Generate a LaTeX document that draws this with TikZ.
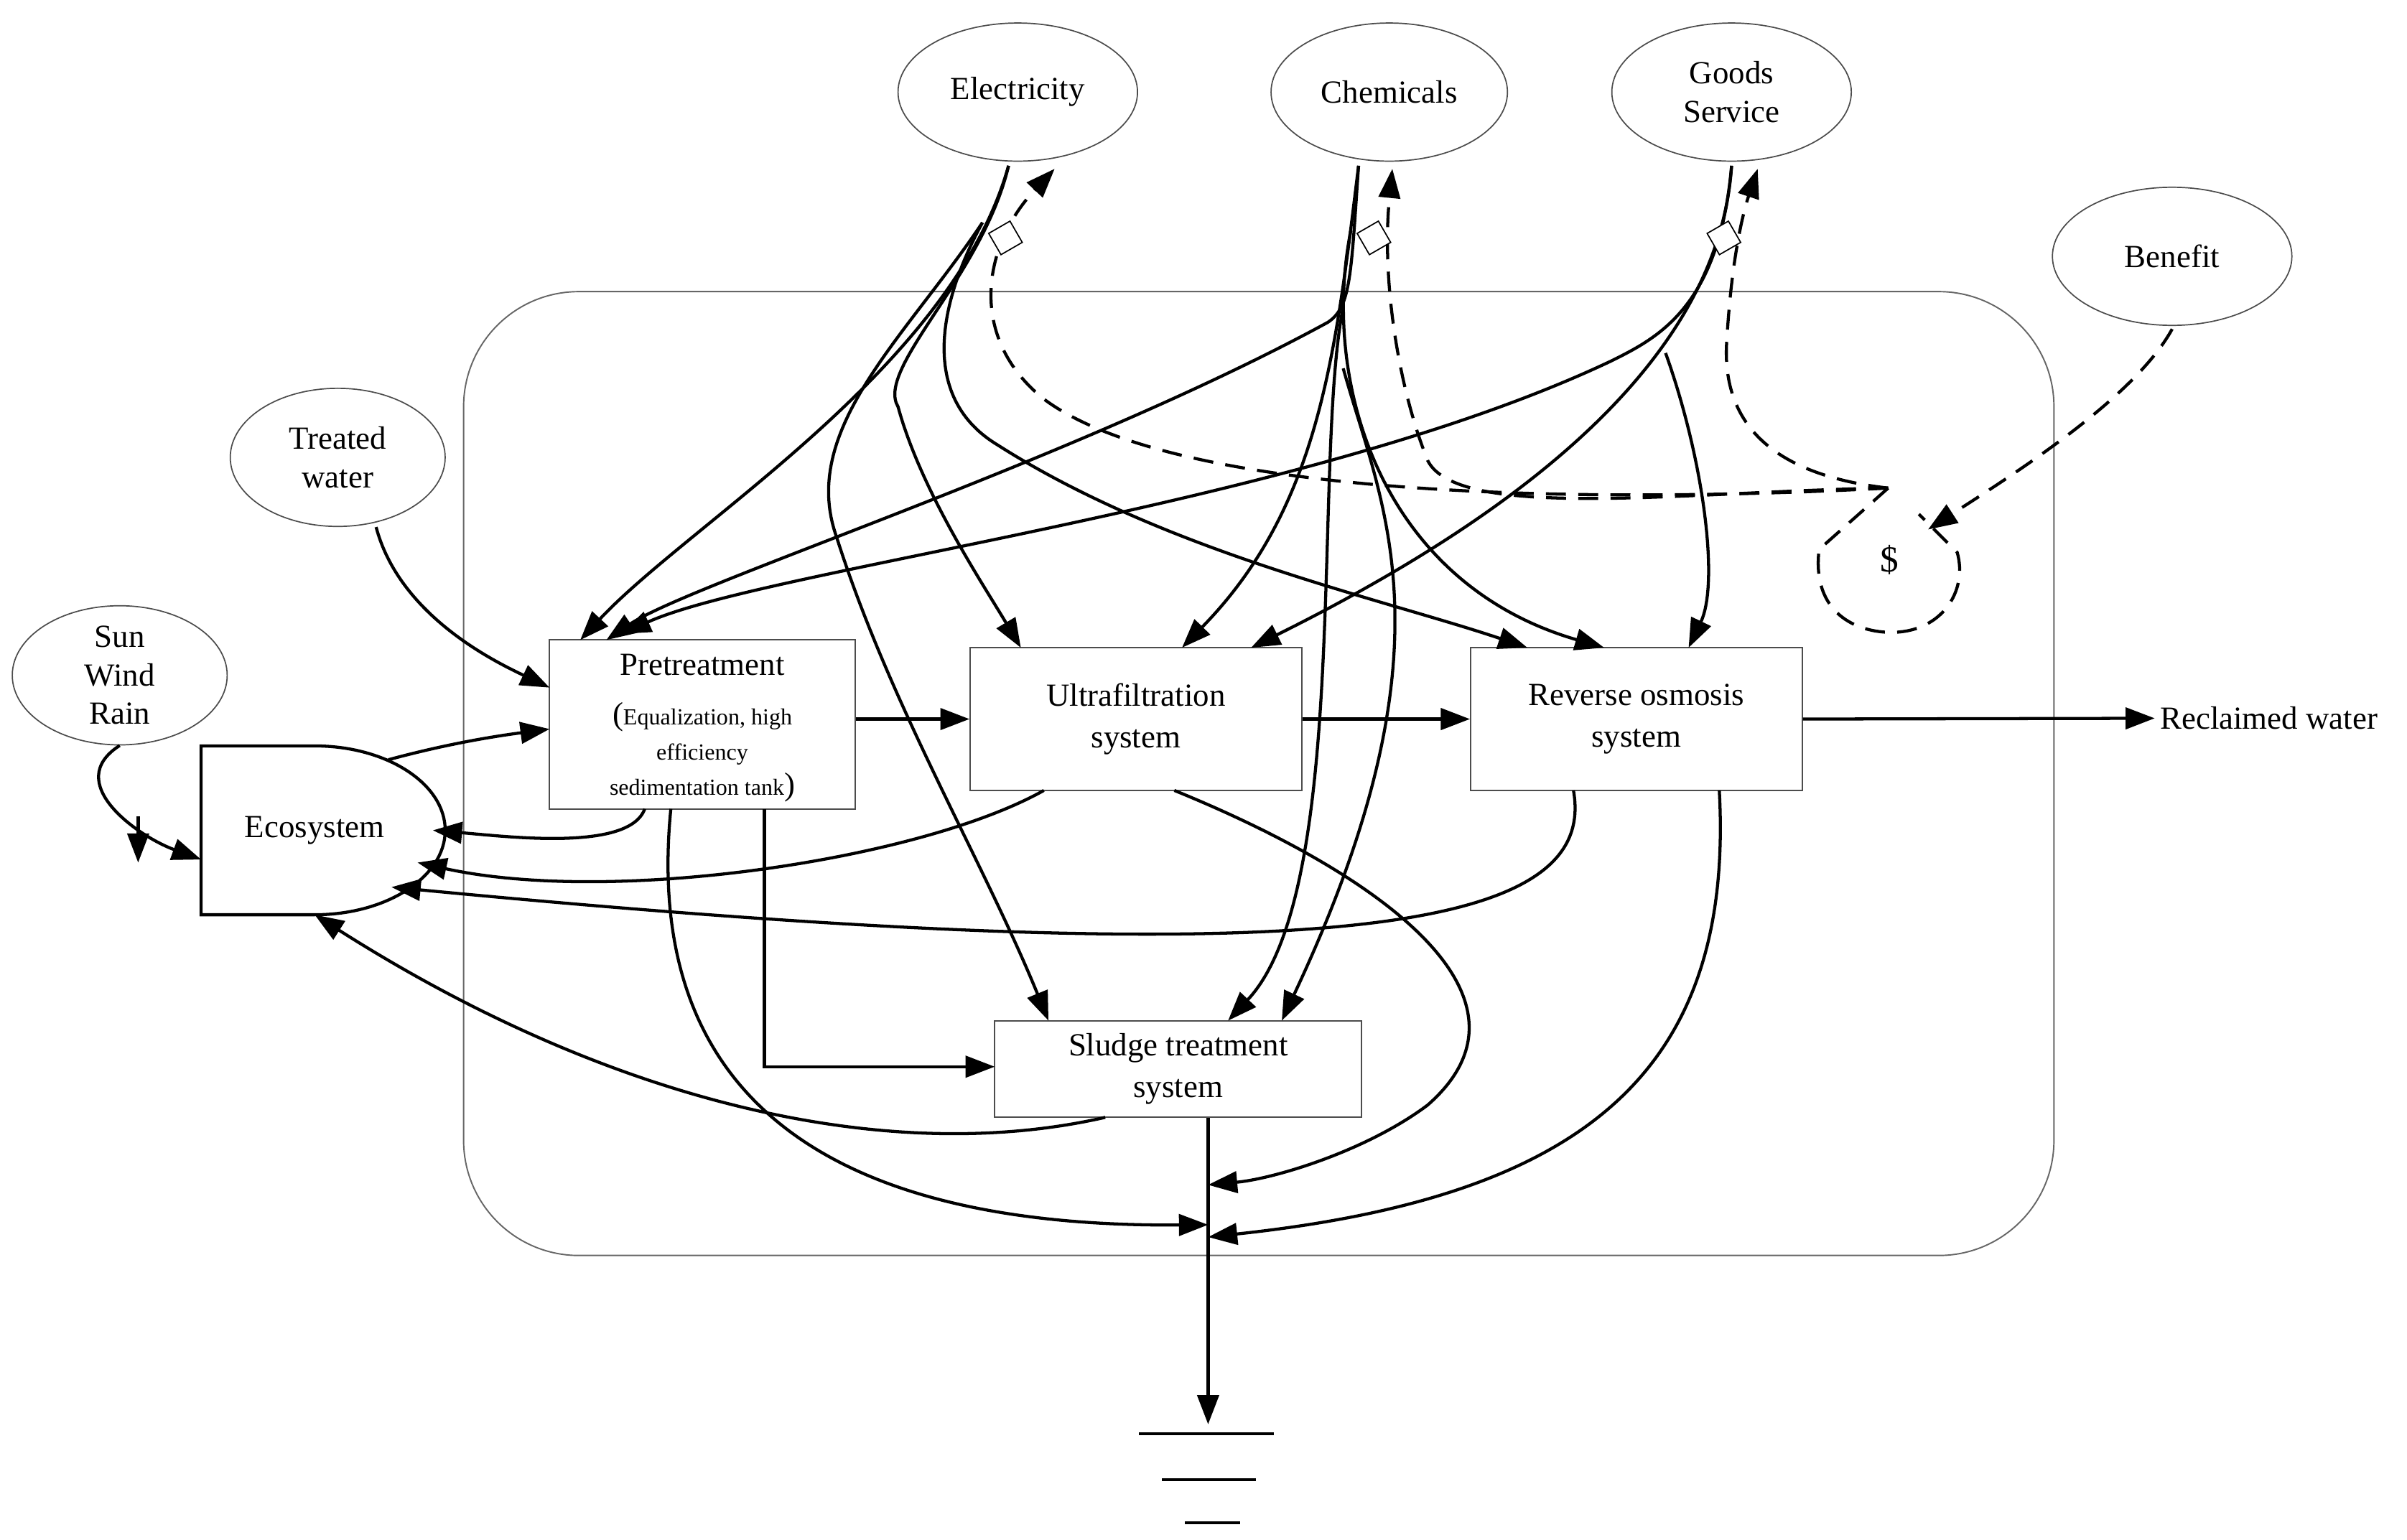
\documentclass[tikz,border=0pt]{standalone}
\usepackage{fontspec}
\setmainfont{Liberation Serif}
\usetikzlibrary{arrows.meta,shapes.geometric}
\begin{document}
\begin{tikzpicture}[x=1pt,y=-1pt,
 el/.style={draw=black!70,line width=0.8pt,ellipse,minimum width=#1,minimum height=90pt,align=center,font=\fontsize{21}{25}\selectfont,inner sep=0pt},
 box/.style={draw=black!70,line width=0.9pt,align=center,font=\fontsize{21}{27}\selectfont,inner sep=0pt},
 ar/.style={line width=2pt,-{Triangle[length=19pt,width=14pt]}},
 dr/.style={ar,dash pattern=on 13pt off 8pt},
 valve/.style={draw,line width=0.8pt,fill=white,minimum size=16pt,rotate=30,inner sep=0pt}]
\useasboundingbox (0,0) rectangle (1568,1003);
\draw[black!60,line width=0.9pt,rounded corners=75pt] (302,190) rectangle (1338,818);
\node[el=156pt] (el) at (663,60) {Electricity};
\node[el=154pt] (ch) at (905,60) {Chemicals};
\node[el=156pt] (gs) at (1128,60) {Goods\\Service};
\node[el=156pt] (be) at (1415,167) {Benefit};
\node[el=140pt] (tw) at (220,298) {Treated\\water};
\node[el=140pt] (sw) at (78,440) {Sun\\Wind\\Rain};
\node[box,minimum width=199pt,minimum height=110pt] (pt) at (457.5,472) {};
\node[font=\fontsize{21}{25}\selectfont] at (457.5,433) {Pretreatment};
\node[align=center,font=\fontsize{15}{23}\selectfont] (ptt) at (457.5,490) {\fontsize{21}{23}\selectfont(\fontsize{15}{23}\selectfont Equalization, high\\efficiency\\sedimentation tank\fontsize{21}{23}\selectfont)};
\node[box,minimum width=216pt,minimum height=93pt] (uf) at (740,468.5) {Ultrafiltration\\system};
\node[box,minimum width=216pt,minimum height=93pt] (ro) at (1066,468.5) {Reverse osmosis\\system};
\node[box,minimum width=239pt,minimum height=63pt] (sl) at (767.5,696.5) {Sludge treatment\\system};
\draw[line width=2pt] (205,596) -- (131,596) -- (131,486) -- (205,486) arc[start angle=-90,end angle=90,x radius=85,y radius=55];
\node[font=\fontsize{21}{25}\selectfont] (eco) at (205,541) {Ecosystem};
\node[font=\fontsize{21}{25}\selectfont] (rw) at (1478,468) {Reclaimed water};
\coordinate (j1) at (787,772);
\coordinate (j2) at (787,798);
\coordinate (gnd) at (787,928);
\coordinate (da) at (1230,318);
% ground
\draw[line width=2pt] (742,934) -- (830,934) (757,964) -- (818,964) (772,992) -- (808,992);
\draw[line width=2pt] (sl.south -| j1) -- (j2);
\draw[ar] (j2) -- (gnd);
% main flow
\draw[ar] (pt.east |- uf) -- (uf.west);
\draw[ar] (uf) -- (ro);
\draw[ar] (ro.east) -- (rw.west);
\draw[ar] (tw.south) ++(25,0) .. controls (260,400) and (320,430) .. (358,448);
\draw[ar] (253,495) .. controls (290,485) and (320,480) .. (358,475);
\draw[ar] (sw.south) .. controls (40,510) and (90,545) .. (131,560);
\draw[ar] (90,532) -- (90,562);
% inputs solid
\draw[ar] (657,108) .. controls (620,240) and (450,340) .. (378,417);
\draw[ar] (657,108) .. controls (640,180) and (570,240) .. (585,265) .. controls (600,320) and (640,380) .. (665,422);
\draw[ar] (640,145) .. controls (610,200) and (600,260) .. (650,290) .. controls (760,360) and (900,390) .. (995,422);
\draw[ar] (640,145) .. controls (590,220) and (520,280) .. (545,350) .. controls (580,460) and (640,560) .. (683,665);
\draw[ar] (885,108) .. controls (880,180) and (880,200) .. (865,210) .. controls (700,300) and (450,380) .. (395,417);
\draw[ar] (885,108) .. controls (870,230) and (860,330) .. (770,422);
\draw[ar] (880,150) .. controls (860,250) and (900,380) .. (1045,422);
\draw[ar] (875,200) .. controls (855,300) and (880,580) .. (800,665);
\draw[ar] (875,240) .. controls (900,330) and (950,420) .. (835,665);
\draw[ar] (1128,108) .. controls (1120,200) and (1080,220) .. (1050,235) .. controls (850,330) and (500,370) .. (405,413);
\draw[ar] (1128,108) .. controls (1120,230) and (1000,330) .. (815,422);
\draw[ar] (1085,230) .. controls (1110,300) and (1120,380) .. (1100,422);
% to ecosystem
\draw[ar] (420,527) .. controls (410,555) and (330,545) .. (282,541);
\draw[ar] (680,515) .. controls (600,560) and (400,590) .. (272,562);
\draw[ar] (1025,515) .. controls (1040,600) and (900,640) .. (255,578);
\draw[ar] (720,728) .. controls (580,760) and (400,720) .. (205,596);
% to sludge / outlet
\draw[ar] (498,527) -- (498,695) -- (648,695);
\draw[ar] (437,527) .. controls (420,700) and (520,800) .. (j2);
\draw[ar] (765,515) .. controls (900,570) and (1010,650) .. (930,720) .. controls (890,750) and (830,768) .. (j1);
\draw[ar] (1120,515) .. controls (1130,700) and (1030,780) .. ([yshift=-8pt]j2);
% dashed money flows
\draw[dr] (da) .. controls (1000,330) and (760,320) .. (680,260) .. controls (630,220) and (640,160) .. (687,110);
\draw[dr] (da) .. controls (1100,320) and (950,340) .. (930,300) .. controls (910,250) and (900,180) .. (907,110);
\draw[dr] (da) .. controls (1160,310) and (1120,280) .. (1125,220) .. controls (1128,170) and (1135,140) .. (1145,110);
\draw[dr] (be.south) ++(0,2) .. controls (1390,260) and (1310,310) .. (1256,345);
\node[valve] (v1) at (655,155) {};
\node[valve] (v2) at (895,155) {};
\node[valve] (v3) at (1123,155) {};
\draw[line width=2pt,dash pattern=on 13pt off 8pt] (da) -- (1185,358) .. controls (1180,400) and (1210,412) .. (1232,412) .. controls (1265,412) and (1282,385) .. (1275,360) -- (1250,335);
\node[font=\fontsize{24}{25}\selectfont] (dol) at (1231,365) {\$};
\end{tikzpicture}
\end{document}
